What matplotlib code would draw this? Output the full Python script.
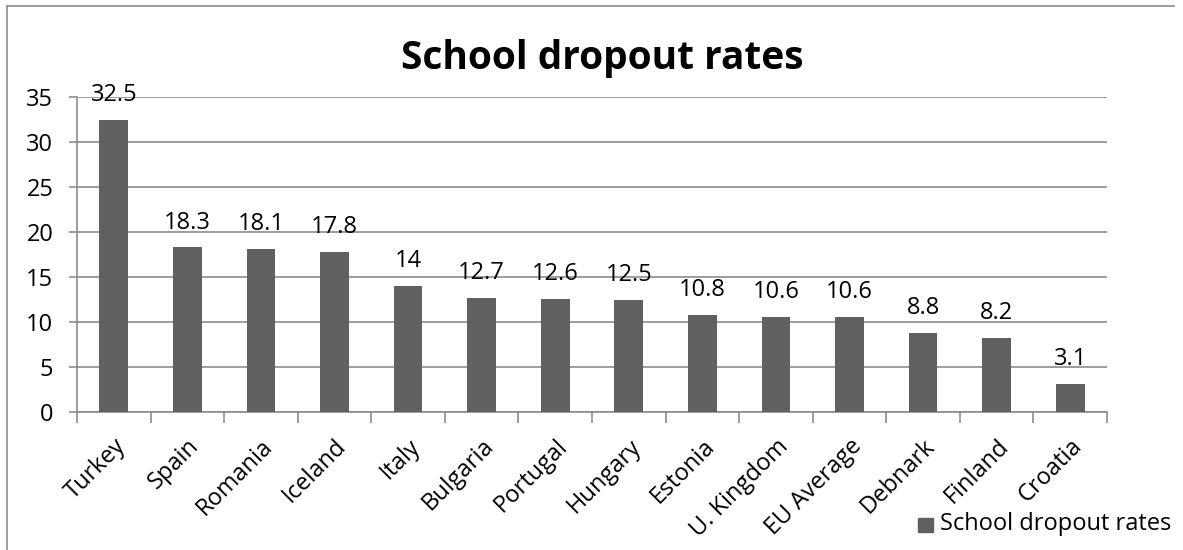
import matplotlib.pyplot as plt
from matplotlib.patches import Rectangle

countries = ['Turkey', 'Spain', 'Romania', 'Iceland', 'Italy', 'Bulgaria', 'Portugal',
             'Hungary', 'Estonia', 'U. Kingdom', 'EU Average', 'Debnark', 'Finland', 'Croatia']
rates = [32.5, 18.3, 18.1, 17.8, 14, 12.7, 12.6, 12.5, 10.8, 10.6, 10.6, 8.8, 8.2, 3.1]
y_ticks = [0, 5, 10, 15, 20, 25, 30, 35]

plt.rcParams['font.family'] = ['Open Sans', 'DejaVu Sans']
bar_color = '#606060'
grid_color = '#8c8c8c'
fs = 17

fig = plt.figure(figsize=(11.83, 5.5), dpi=100)
W, H = 1183, 550
ax = fig.add_axes([77 / W, 1 - 412 / H, (1107 - 77) / W, (412 - 97) / H])

x = list(range(len(countries)))
ax.bar(x, rates, width=0.39, color=bar_color, zorder=3, label='School dropout rates')
for xi, v in zip(x, rates):
    ax.annotate(f'{v:g}', (xi, v), xytext=(0, 13.5), textcoords='offset points',
                ha='center', va='baseline', fontsize=fs, zorder=4)

ax.set_xlim(-0.5, len(countries) - 0.5)
ax.set_ylim(0, 35)
ax.set_yticks(y_ticks)
ax.yaxis.grid(True, color=grid_color, linewidth=1.2, zorder=0)
ax.tick_params(axis='y', length=6, width=1.2, color=grid_color, labelsize=fs, pad=11)

# category boundary ticks on the x axis, labels centred under bars
ax.set_xticks([i - 0.5 for i in range(len(countries) + 1)])
ax.set_xticklabels([])
ax.set_xticks(x, minor=True)
ax.set_xticklabels(countries, minor=True, rotation=45, ha='right', va='top',
                   rotation_mode='anchor', fontsize=fs)
ax.tick_params(axis='x', which='major', length=8, width=1.2, color=grid_color)
ax.tick_params(axis='x', which='minor', length=0, pad=16)

for side in ['top', 'right']:
    ax.spines[side].set_visible(False)
for side in ['left', 'bottom']:
    ax.spines[side].set_color(grid_color)
    ax.spines[side].set_linewidth(1.2)

fig.text(602 / W, 1 - 69 / H, 'School dropout rates', ha='center', va='baseline',
         fontsize=28, fontweight='bold')

# chart frame
fig.add_artist(plt.Line2D([7 / W, 1174 / W], [1 - 6 / H, 1 - 6 / H], color=grid_color, lw=1.2))
fig.add_artist(plt.Line2D([7 / W, 7 / W], [0, 1 - 6 / H], color=grid_color, lw=1.2))

# legend
fig.add_artist(Rectangle((918 / W, 1 - 532 / H), 15 / W, 14 / H, color=bar_color,
                         transform=fig.transFigure))
fig.text(940 / W, 1 - 530 / H, 'School dropout rates', ha='left', va='baseline', fontsize=fs)

fig.savefig('out.png', dpi=100)
